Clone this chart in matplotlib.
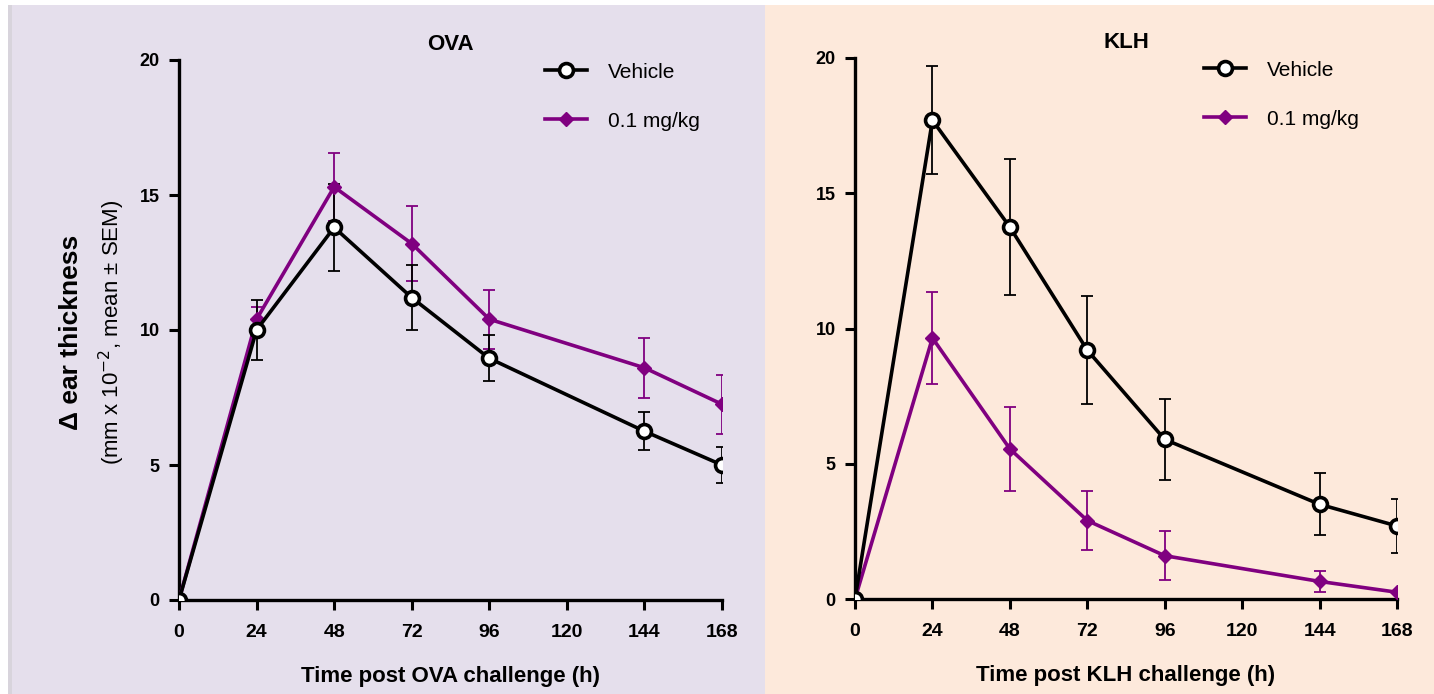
import matplotlib

matplotlib.use("Agg")
import matplotlib.pyplot as plt
from matplotlib.patches import Rectangle

plt.rcParams["font.family"] = ["Liberation Sans", "DejaVu Sans"]

hours = [0, 24, 48, 72, 96, 144, 168]

# OVA panel
ova_vehicle = [0, 10.0, 13.8, 11.2, 8.95, 6.25, 5.0]
ova_vehicle_sem = [0, 1.1, 1.6, 1.2, 0.85, 0.7, 0.65]
ova_dose = [0, 10.4, 15.3, 13.2, 10.4, 8.6, 7.25]
ova_dose_sem = [0, 0.45, 1.25, 1.4, 1.1, 1.1, 1.1]

# KLH panel
klh_vehicle = [0, 17.7, 13.75, 9.2, 5.9, 3.5, 2.7]
klh_vehicle_sem = [0, 2.0, 2.5, 2.0, 1.5, 1.15, 1.0]
klh_dose = [0, 9.65, 5.55, 2.9, 1.6, 0.65, 0.25]
klh_dose_sem = [0, 1.7, 1.55, 1.1, 0.9, 0.4, 0.0]

x_ticks = [0, 24, 48, 72, 96, 120, 144, 168]
y_ticks = [0, 5, 10, 15, 20]

PURPLE = "#800080"
BLACK = "#000000"

fig = plt.figure(figsize=(14.34, 6.94), dpi=100)
fig.patch.set_facecolor("white")
fig.patches.append(Rectangle((8 / 1434, 0), 6 / 1434, 689 / 694, transform=fig.transFigure,
                             facecolor="#d8d4dc", edgecolor="none", zorder=-3))
fig.patches.append(Rectangle((12 / 1434, 0), 753 / 1434, 689 / 694, transform=fig.transFigure,
                             facecolor="#e5dfec", edgecolor="none", zorder=-2))
fig.patches.append(Rectangle((765 / 1434, 0), 669 / 1434, 689 / 694, transform=fig.transFigure,
                             facecolor="#fde9db", edgecolor="none", zorder=-2))

ax_ova = fig.add_axes([179 / 1434, 94 / 694, 543 / 1434, 540 / 694])
ax_klh = fig.add_axes([855 / 1434, 95 / 694, 542 / 1434, 541 / 694])


def draw_panel(ax, title, xlabel, vehicle, vehicle_sem, dose, dose_sem, legend_x):
    ax.set_facecolor("none")
    ax.errorbar(hours, dose, yerr=dose_sem, fmt="none", ecolor=PURPLE, elinewidth=1.3,
                capsize=4.5, capthick=1.3, zorder=2)
    ax.errorbar(hours, vehicle, yerr=vehicle_sem, fmt="none", ecolor=BLACK, elinewidth=1.3,
                capsize=4.5, capthick=1.3, zorder=2)
    ax.plot(hours, vehicle, color=BLACK, lw=2.6, marker="o", ms=10, mfc="white",
            mec=BLACK, mew=2.6, label="Vehicle", zorder=4)
    ax.plot(hours, dose, color=PURPLE, lw=2.6, marker="D", ms=7, mfc=PURPLE,
            mec=PURPLE, label="0.1 mg/kg", zorder=3)
    ax.set_xlim(0, 168)
    ax.set_ylim(0, 20)
    ax.set_xticks(x_ticks)
    ax.set_yticks(y_ticks)
    for side in ("top", "right"):
        ax.spines[side].set_visible(False)
    for side in ("left", "bottom"):
        ax.spines[side].set_linewidth(2.4)
    ax.tick_params(axis="x", width=2.2, length=7, labelsize=14, pad=10)
    ax.tick_params(axis="y", width=2.2, length=7, labelsize=13, pad=7)
    for label in ax.get_xticklabels() + ax.get_yticklabels():
        label.set_fontweight("bold")
    ax.set_title(title, fontsize=16, fontweight="bold", pad=7)
    ax.set_xlabel(xlabel, fontsize=16, fontweight="bold", labelpad=18)
    ax.legend(loc="upper left", bbox_to_anchor=(legend_x, 1.03), frameon=False, fontsize=15,
              handlelength=2.0, handletextpad=1.0, labelspacing=1.45)


draw_panel(ax_ova, "OVA", "Time post OVA challenge (h)",
           ova_vehicle, ova_vehicle_sem, ova_dose, ova_dose_sem, 0.64)
draw_panel(ax_klh, "KLH", "Time post KLH challenge (h)",
           klh_vehicle, klh_vehicle_sem, klh_dose, klh_dose_sem, 0.61)

fig.text(71 / 1434, 1 - 332 / 694, "\u0394 ear thickness", rotation=90, ha="center",
         va="center", fontsize=19, fontweight="bold")
fig.text(112 / 1434, 1 - 332 / 694, "(mm x 10$^{-2}$, mean \u00b1 SEM)", rotation=90,
         ha="center", va="center", fontsize=16)

fig.savefig("out.png", dpi=100)
